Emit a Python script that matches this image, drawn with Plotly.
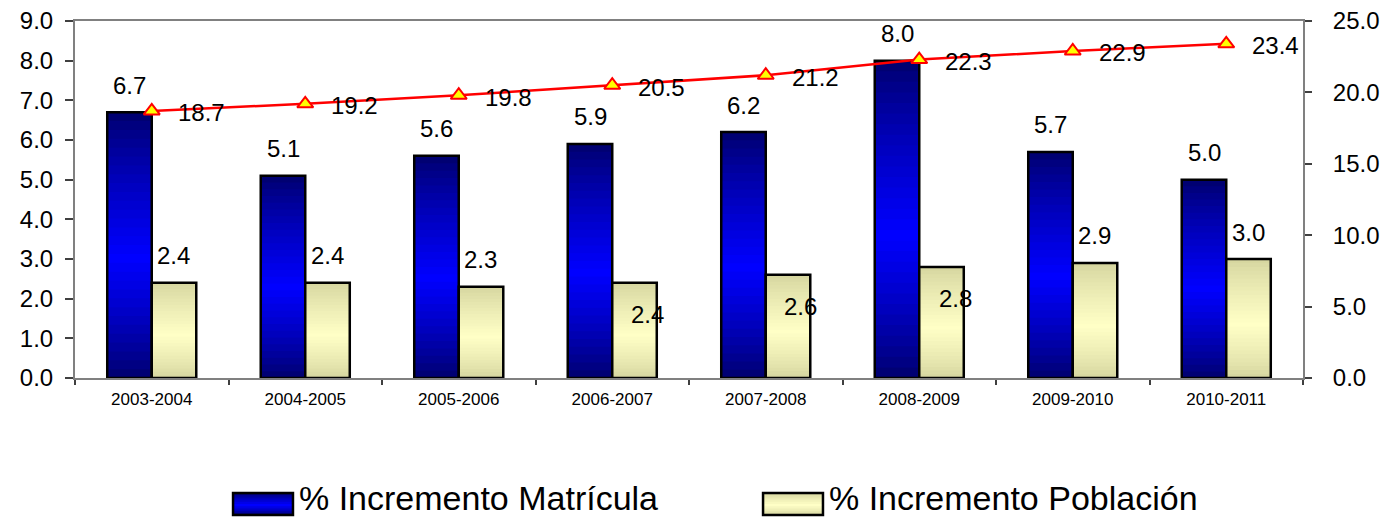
import plotly.graph_objects as go

# ---- data ----
periods = ["2003-2004", "2004-2005", "2005-2006", "2006-2007",
           "2007-2008", "2008-2009", "2009-2010", "2010-2011"]
matricula = [6.7, 5.1, 5.6, 5.9, 6.2, 8.0, 5.7, 5.0]
poblacion = [2.4, 2.4, 2.3, 2.4, 2.6, 2.8, 2.9, 3.0]
linea = [18.7, 19.2, 19.8, 20.5, 21.2, 22.3, 22.9, 23.4]
series_names = ["% Incremento Matrícula", "% Incremento Población"]

# ---- styling ----
FONT = "Liberation Sans, Arial, sans-serif"
N = 30
BAR_W = 0.29
BLUE_DARK, BLUE_BRIGHT = (0, 0, 105), (0, 0, 255)
YEL_DARK, YEL_BRIGHT = (212, 212, 158), (255, 255, 198)
PEAK = 0.45  # fraction from bottom where gradient is brightest

def grad(t, dark, bright):
    f = t / PEAK if t < PEAK else (1 - t) / (1 - PEAK)
    f = max(0.0, min(1.0, f)) ** 0.8
    c = [round(d + (b - d) * f) for d, b in zip(dark, bright)]
    return f"rgb({c[0]},{c[1]},{c[2]})"

fig = go.Figure()

for vals, off, dark, bright in [(matricula, -BAR_W, BLUE_DARK, BLUE_BRIGHT),
                                (poblacion, 0.0, YEL_DARK, YEL_BRIGHT)]:
    # gradient: each layer runs from its base to the bar top, later layers overlay
    for i in range(N):
        t = (i + 0.5) / N
        fig.add_trace(go.Bar(
            x=periods, y=[v * (N - i) / N for v in vals], base=[v * i / N for v in vals],
            offset=off, width=BAR_W,
            marker=dict(color=grad(t, dark, bright), line=dict(width=0)),
            showlegend=False, hoverinfo="skip"))
    # outline
    fig.add_trace(go.Bar(
        x=periods, y=vals, offset=off, width=BAR_W,
        marker=dict(color="rgba(0,0,0,0)", line=dict(color="black", width=2.5)),
        showlegend=False))

fig.add_trace(go.Scatter(
    x=periods, y=linea, yaxis="y2", mode="lines+markers",
    line=dict(color="#ff0000", width=2.5),
    marker=dict(symbol="triangle-up", size=14, color="#ffff00",
                line=dict(color="#ff0000", width=2)),
    showlegend=False))

LBL = 24
ann = []
for p, v in zip(periods, matricula):
    ann.append(dict(x=p, y=v, xref="x", yref="y", text=f"{v:.1f}", showarrow=False,
                    xshift=-22, yshift=27, font=dict(family=FONT, size=LBL, color="black")))
pob_dy = [27, 27, 27, -32, -32, -32, 27, 27]
pob_dx = [22, 22, 22, 35, 35, 36, 22, 22]
for p, v, dy, dx in zip(periods, poblacion, pob_dy, pob_dx):
    ann.append(dict(x=p, y=v, xref="x", yref="y", text=f"{v:.1f}", showarrow=False,
                    xshift=dx, yshift=dy, font=dict(family=FONT, size=LBL, color="black")))
for p, v in zip(periods, linea):
    ann.append(dict(x=p, y=v, xref="x", yref="y2", text=f"{v:.1f}", showarrow=False,
                    xanchor="left", xshift=24, yshift=-2,
                    font=dict(family=FONT, size=LBL, color="black")))

# custom legend
shapes = []
leg_items = [(0.1287, 0.1775, 0.1808, BLUE_DARK, BLUE_BRIGHT),
             (0.5603, 0.6091, 0.6124, YEL_DARK, YEL_BRIGHT)]
y0, y1 = -0.384, -0.322
for (x0, x1, tx, dark, bright), name in zip(leg_items, series_names):
    nb = 10
    for k in range(nb):
        ya = y0 + (y1 - y0) * k / nb
        shapes.append(dict(type="rect", xref="paper", yref="paper", x0=x0, x1=x1,
                           y0=ya, y1=y1, line=dict(width=0),
                           fillcolor=grad((k + 0.5) / nb, dark, bright)))
    shapes.append(dict(type="rect", xref="paper", yref="paper", x0=x0, x1=x1,
                       y0=y0, y1=y1, line=dict(color="black", width=2.5),
                       fillcolor="rgba(0,0,0,0)"))
    ann.append(dict(x=tx, y=-0.337, xref="paper", yref="paper", text=name,
                    showarrow=False, xanchor="left", yanchor="middle",
                    font=dict(family=FONT, size=34, color="black")))

fig.update_layout(
    width=1382, height=521,
    margin=dict(l=75, r=79, t=21, b=143, autoexpand=False),
    paper_bgcolor="white", plot_bgcolor="white",
    barmode="overlay", showlegend=False,
    font=dict(family=FONT, color="black"),
    xaxis=dict(type="category", showline=True, linecolor="#808080", linewidth=2,
               mirror=True, ticks="outside", tickson="boundaries", ticklen=5,
               tickcolor="#404040", tickwidth=1.5, showgrid=False, automargin=False,
               tickfont=dict(family=FONT, size=17), ticklabelstandoff=5),
    yaxis=dict(range=[0, 9], dtick=1, tickformat=".1f", showline=True,
               linecolor="#808080", linewidth=2, ticks="outside", ticklen=8,
               tickcolor="#404040", tickwidth=1.5, showgrid=False, zeroline=False,
               automargin=False,
               tickfont=dict(family=FONT, size=24), ticklabelstandoff=7),
    yaxis2=dict(range=[0, 25], dtick=5, tickformat=".1f", overlaying="y", side="right",
                showline=True, linecolor="#808080", linewidth=2, ticks="outside",
                ticklen=7, tickcolor="#404040", tickwidth=1.5, showgrid=False,
                zeroline=False, automargin=False, tickfont=dict(family=FONT, size=24),
                ticklabelstandoff=16),
    annotations=ann, shapes=shapes,
)

fig.write_html(
    "out.html",
    config={"displayModeBar": False},
    post_script="document.body.style.margin='0';document.body.style.overflow='hidden';",
)
